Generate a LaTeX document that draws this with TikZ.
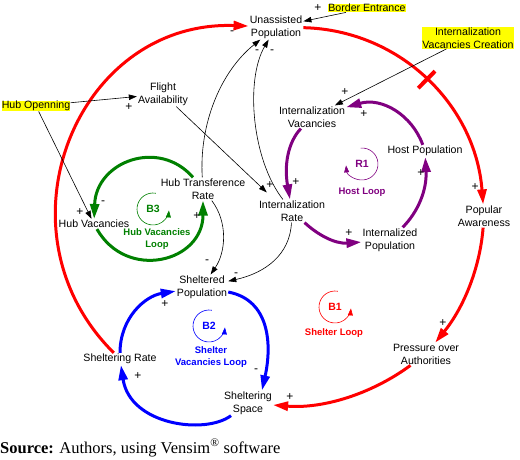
\documentclass[tikz,border=0pt]{standalone}
\usepackage{fontspec}
\setmainfont{Liberation Sans}
\newfontfamily\capfont{Liberation Serif}
\usepackage{tikz}
\usetikzlibrary{arrows.meta}

\definecolor{cldred}{RGB}{255,0,0}
\definecolor{cldgreen}{RGB}{0,128,0}
\definecolor{cldblue}{RGB}{0,0,255}
\definecolor{cldpurple}{RGB}{128,0,128}
\definecolor{cldyellow}{RGB}{255,255,0}

\begin{document}
\begin{tikzpicture}[x=1pt, y=1pt,
		var/.style={align=center, inner sep=1pt, font=\fontsize{10.6}{13}\selectfont},
		exo/.style={var, fill=cldyellow, inner sep=0.3pt},
		pol/.style={inner sep=0pt, font=\fontsize{12}{13}\selectfont},
		link/.style={line width=0.6pt, -{Triangle[length=8pt, width=5.5pt]}},
		fat/.style={line width=3pt, -{Triangle[length=15pt, width=9pt]}},
		loopsym/.style={line width=0.6pt, -{Triangle[length=7pt, width=5pt]}},
		looptxt/.style={inner sep=0pt, align=center, font=\bfseries\fontsize{9.5}{11.5}\selectfont},
		loopid/.style={inner sep=0pt, font=\bfseries\fontsize{10.5}{12}\selectfont},
		delaybar/.style={fill=cldred, inner sep=0pt, minimum width=4pt, minimum height=24pt}]
	\useasboundingbox (0,0) rectangle (520,-459);

	% variables
	\node[var] (unassisted) at (276,-27) {Unassisted\\Population};
	\node[exo] (border) at (367,-8) {Border Entrance};
	\node[exo] (ivcreation) at (468,-38) {Internalization\\Vacancies Creation};
	\node[exo] (hubopen) at (36,-106) {Hub Openning};
	\node[var] (flight) at (163,-94) {Flight\\Availability};
	\node[var] (intvac) at (312,-117) {Internalization\\Vacancies};
	\node[var] (hostpop) at (425,-151) {Host Population};
	\node[var] (hubtr) at (203,-189) {Hub Transference\\Rate};
	\node[var] (hubvac) at (94,-224) {Hub Vacancies};
	\node[var] (intrate) at (292,-211) {Internalization\\Rate};
	\node[var] (awareness) at (484,-216) {Popular\\Awareness};
	\node[var] (intpop) at (390,-240) {Internalized\\Population};
	\node[var] (sheltered) at (202,-287) {Sheltered\\Population};
	\node[var] (shrate) at (120,-359) {Sheltering Rate};
	\node[var] (pressure) at (426,-354) {Pressure over\\Authorities};
	\node[var] (shspace) at (248,-403) {Sheltering\\Space};

	% B1: shelter loop
	\draw[fat, cldred] (shrate) .. controls (-9,-231) and (76,-20) .. (unassisted);
	\draw[fat, cldred] (unassisted) .. controls (400,-30) and (475.5,-105) .. node[delaybar, pos=0.5, sloped] (delay) {} (awareness);
	\draw[fat, cldred] (awareness) .. controls (480,-268) and (463.6,-307.7) .. (pressure);
	\draw[fat, cldred] (pressure) .. controls (370.4,-394.8) and (321.8,-408.9) .. (shspace);

	% B2: shelter vacancies loop
	\draw[fat, cldblue] (shrate) .. controls (120,-318) and (145,-296) .. (sheltered);
	\draw[fat, cldblue] (sheltered) .. controls (270,-300) and (272,-345) .. ([xshift=14pt]shspace.north);
	\draw[fat, cldblue] (shspace) .. controls (205,-435) and (130,-425) .. (shrate);

	% B3: hub vacancies loop
	\draw[fat, cldgreen] (hubtr) .. controls (159,-138) and (96,-161.4) .. (hubvac);
	\draw[fat, cldgreen] (hubvac) .. controls (127,-281.5) and (203,-262) .. (hubtr);

	% R1: host loop
	\draw[fat, cldpurple] (intvac) .. controls (288,-142) and (284,-165) .. (intrate);
	\draw[fat, cldpurple] (intrate) .. controls (318,-235) and (335,-244) .. (intpop);
	\draw[fat, cldpurple] (intpop) .. controls (418,-212) and (427,-190) .. (hostpop);
	\draw[fat, cldpurple] (hostpop) .. controls (412,-115) and (382,-97) .. (intvac);

	% other links
	\draw[link] (border) -- (unassisted);
	\draw[link] (hubopen) -- (flight);
	\draw[link] (hubopen) -- (hubvac);
	\draw[link] (flight) -- ([xshift=9pt, yshift=7pt]intrate.north west);
	\draw[link] (ivcreation) -- (intvac);
	\draw[link] (hubtr) .. controls (199,-125) and (220,-72) .. (unassisted);
	\draw[link] (intrate) .. controls (252,-160) and (245,-80) .. (unassisted);
	\draw[link] (hubtr) .. controls (228,-222) and (226,-252) .. (sheltered);
	\draw[link] (intrate) .. controls (290,-255) and (265,-273) .. (sheltered);

	% polarities
	\foreach \px/\py/\ps [count=\i] in {318/-8/+, 232/-33/-, 257/-52/-, 272/-52/-, 129/-107/+,
			345/-92/+, 364/-114/+, 80/-212/+, 103/-203/-, 197/-216/+, 270/-185/+, 296/-182/+,
			421/-173/+, 475/-187/+, 349/-233/+, 207/-262/-, 236/-275/-, 165/-304/+, 256/-371/-,
			138/-376/+, 443/-323/+, 290/-397/+}{
		\node[pol] (pol\i) at (\px,\py) {\ps};
	}

	% loop symbols
	\node[loopid, text=cldgreen] (b3) at (153,-209) {B3};
	\draw[loopsym, cldgreen] ([shift={(80:16pt)}]b3.center) arc[start angle=80, end angle=355, radius=16pt];
	\node[looptxt, text=cldgreen] (b3txt) at (157,-239) {Hub Vacancies\\Loop};

	\node[loopid, text=cldpurple] (r1) at (362,-164) {R1};
	\draw[loopsym, cldpurple] ([shift={(95:16pt)}]r1.center) arc[start angle=95, end angle=-175, radius=16pt];
	\node[looptxt, text=cldpurple] (r1txt) at (362,-192) {Host Loop};

	\node[loopid, text=cldblue] (b2) at (209,-326) {B2};
	\draw[loopsym, cldblue] ([shift={(80:16pt)}]b2.center) arc[start angle=80, end angle=355, radius=16pt];
	\node[looptxt, text=cldblue] (b2txt) at (211,-357) {Shelter\\Vacancies Loop};

	\node[loopid, text=cldred] (b1) at (335,-307) {B1};
	\draw[loopsym, cldred] ([shift={(80:16pt)}]b1.center) arc[start angle=80, end angle=355, radius=16pt];
	\node[looptxt, text=cldred] (b1txt) at (334,-333) {Shelter Loop};

	% source line
	\node[anchor=west, inner sep=0pt, font=\capfont\fontsize{16.5}{19}\selectfont] (source) at (0,-448)
		{\textbf{Source:} Authors, using Vensim\textsuperscript{®} software};
\end{tikzpicture}
\end{document}
